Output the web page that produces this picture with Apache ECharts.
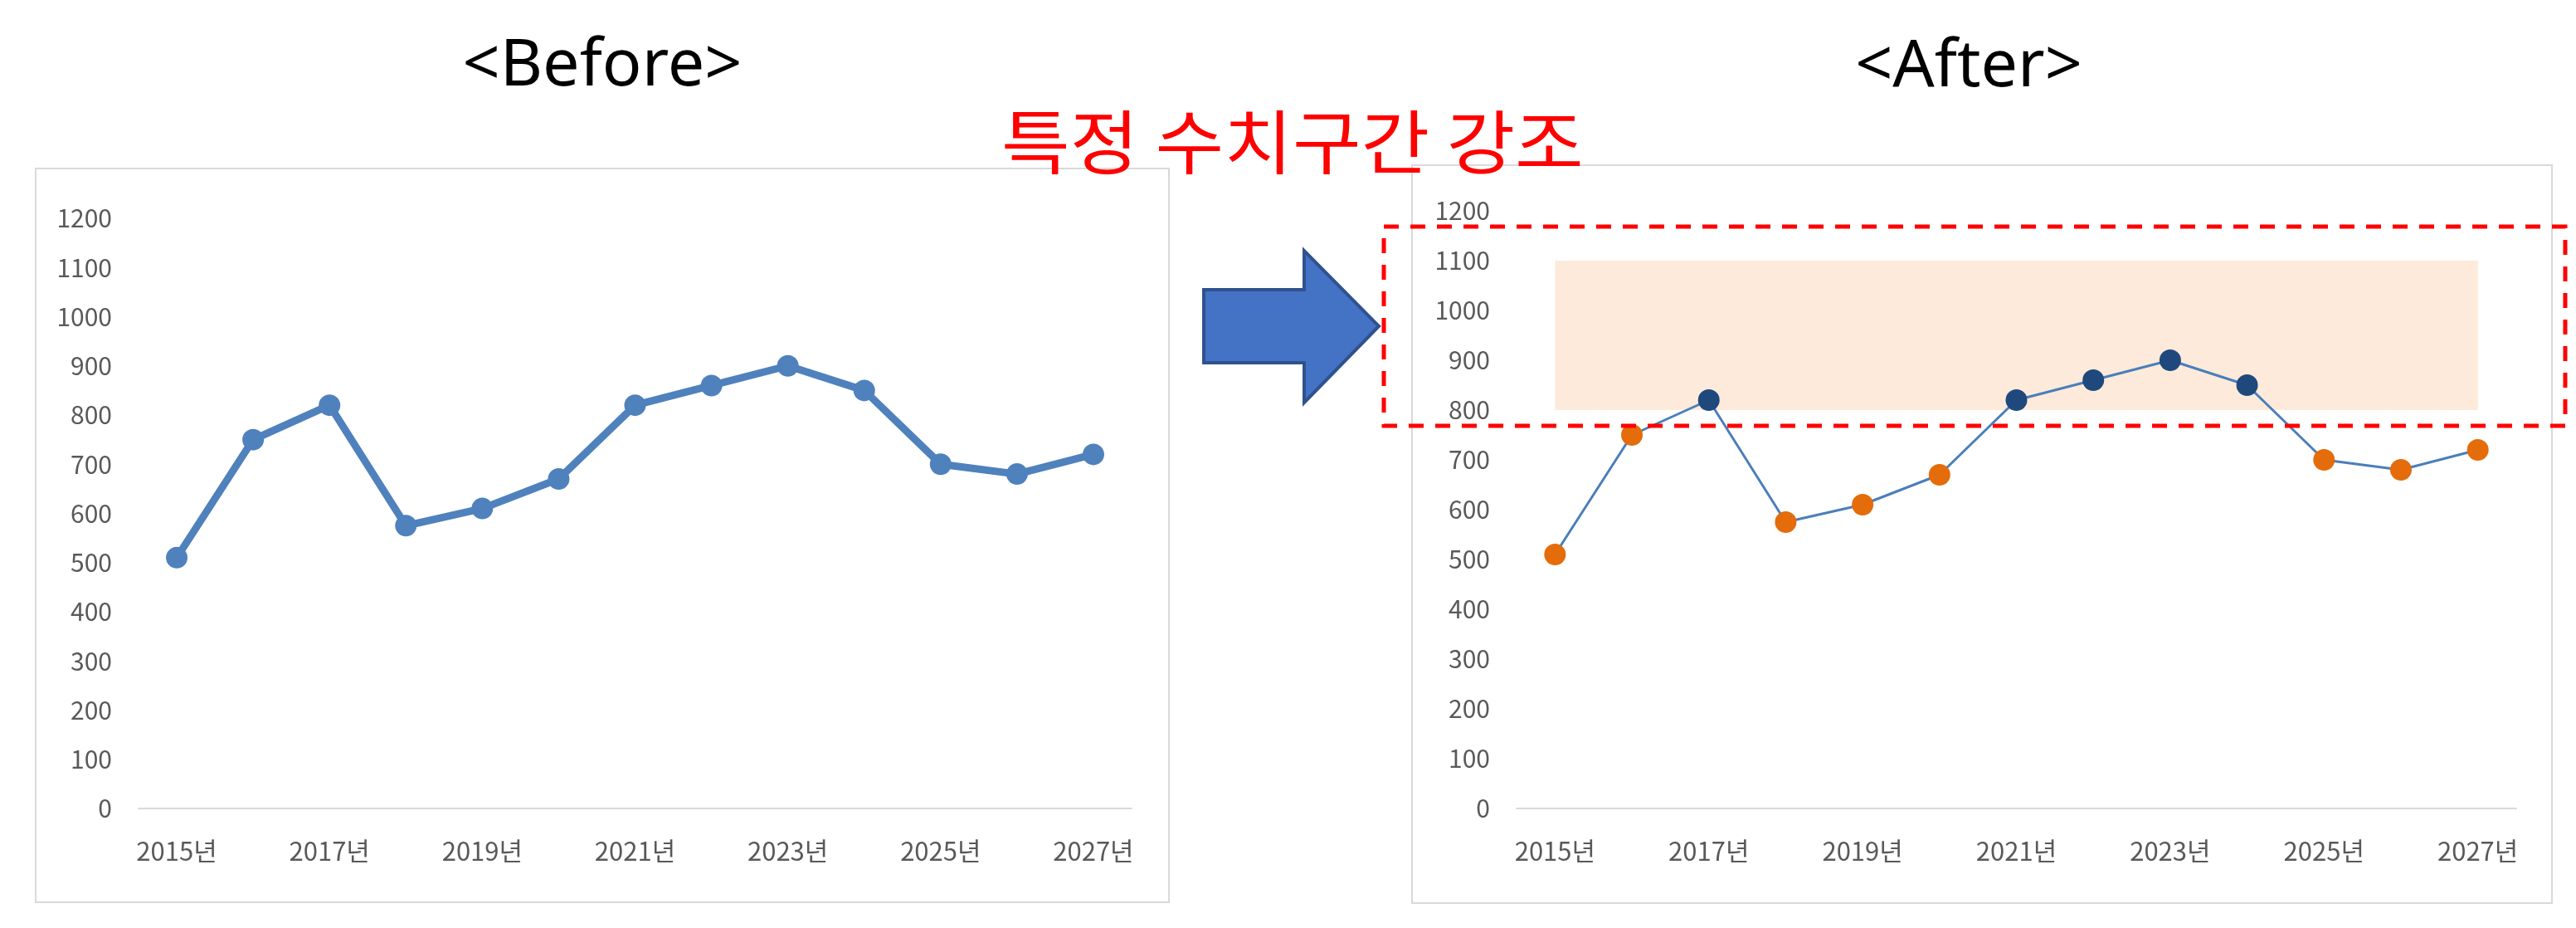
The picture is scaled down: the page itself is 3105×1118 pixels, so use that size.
<!DOCTYPE html>
<html>
<head>
<meta charset="utf-8">
<script src="https://cdn.jsdelivr.net/npm/echarts@6/dist/echarts.min.js"></script>
<style>
html,body{margin:0;padding:0;background:#fff;}
#c{width:3105px;height:1118px;}
</style>
</head>
<body>
<div id="c"></div>
<script>
// ---- data ----
const years = ['2015년','2016년','2017년','2018년','2019년','2020년','2021년','2022년','2023년','2024년','2025년','2026년','2027년'];
const values = [510, 750, 820, 575, 610, 670, 820, 860, 900, 850, 700, 680, 720];
const yMin = 0, yMax = 1200, yStep = 100;
const bandLow = 800, bandHigh = 1100;
const titleBefore = '<Before>';
const titleAfter = '<After>';
const headline = '특정 수치구간 강조';

const labelFont = {color:'#595959', fontSize:30, fontFamily:'Noto Sans CJK KR'};
const chart = echarts.init(document.getElementById('c'), null, {renderer:'canvas'});

function xAxisCfg(gi){
  return {
    type:'category', gridIndex:gi, data:years, boundaryGap:true,
    axisTick:{show:false},
    axisLine:{show:true, lineStyle:{color:'#d9d9d9', width:2}},
    axisLabel:Object.assign({}, labelFont, {interval:1, margin:36, fontSize:31}),
    splitLine:{show:false}
  };
}
function yAxisCfg(gi){
  return {
    type:'value', gridIndex:gi, min:yMin, max:yMax, interval:yStep,
    axisLine:{show:false}, axisTick:{show:false}, splitLine:{show:false},
    axisLabel:Object.assign({margin:32, formatter:v => String(v)}, labelFont)
  };
}

const inBand = v => v >= bandLow && v <= bandHigh;

const option = {
  animation:false,
  backgroundColor:'#ffffff',
  grid:[
    {left:167, top:263, width:1197, height:711},
    {left:1828, top:254, width:1205, height:720}
  ],
  xAxis:[xAxisCfg(0), xAxisCfg(1)],
  yAxis:[yAxisCfg(0), yAxisCfg(1)],
  series:[
    {
      type:'line', xAxisIndex:0, yAxisIndex:0, data:values,
      symbol:'circle', symbolSize:26,
      lineStyle:{color:'#4F81BD', width:9},
      itemStyle:{color:'#4F81BD'}
    },
    {
      type:'line', xAxisIndex:1, yAxisIndex:1,
      data:values.map(v => ({value:v, itemStyle:{color: inBand(v) ? '#1F497D' : '#E46C0A'}})),
      symbol:'circle', symbolSize:26,
      lineStyle:{color:'#4A7EBB', width:3},
      z:3,
      markArea:{
        silent:true,
        itemStyle:{color:'#FDEADA'},
        data:[[{xAxis:years[0], yAxis:bandHigh},{xAxis:years[years.length-1], yAxis:bandLow}]]
      }
    }
  ],
  graphic:[
    {type:'rect', shape:{x:43, y:203, width:1366, height:884}, style:{fill:'none', stroke:'#d9d9d9', lineWidth:2}, z:-10},
    {type:'rect', shape:{x:1702, y:199, width:1374, height:889}, style:{fill:'none', stroke:'#d9d9d9', lineWidth:2}, z:-10},
    {type:'text', x:726, y:80, style:{text:titleBefore, font:'79px "Noto Sans"', fill:'#000', textAlign:'center', textVerticalAlign:'middle'}},
    {type:'text', x:2373, y:81, style:{text:titleAfter, font:'79px "Noto Sans"', fill:'#000', textAlign:'center', textVerticalAlign:'middle'}},
    {type:'text', x:1207, y:171, scaleX:1.07, style:{text:headline, font:'84px "Noto Sans CJK KR"', fill:'#FF0000', textAlign:'left', textVerticalAlign:'middle'}},
    {type:'polygon', shape:{points:[[1451,349],[1572,349],[1572,302],[1662,393],[1572,485],[1572,437],[1451,437]]},
      style:{fill:'#4472C4', stroke:'#2F528F', lineWidth:4}},
    {type:'rect', shape:{x:1668, y:273, width:1424, height:240}, style:{fill:'none', stroke:'#FF0000', lineWidth:5, lineDash:[18,14]}, z:100}
  ]
};
chart.setOption(option);
</script>
</body>
</html>
